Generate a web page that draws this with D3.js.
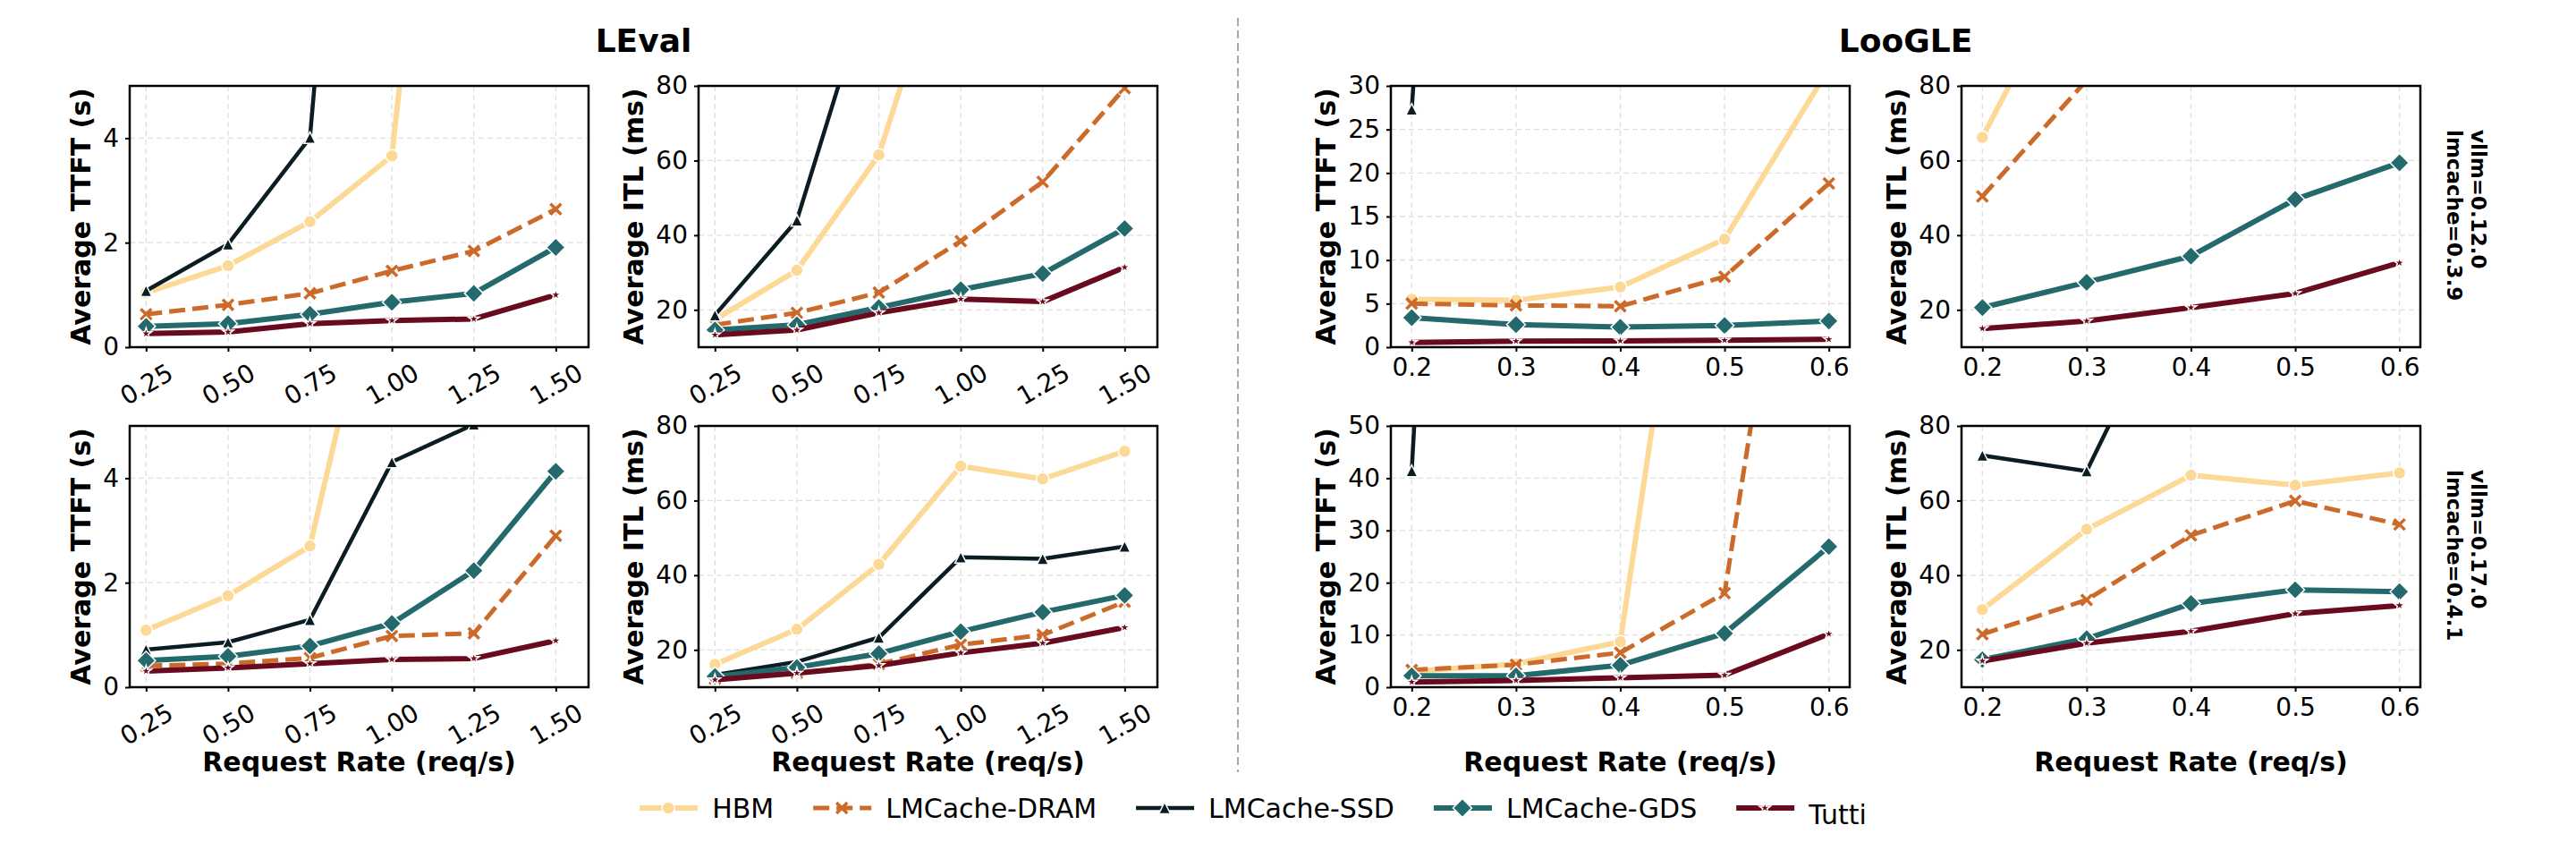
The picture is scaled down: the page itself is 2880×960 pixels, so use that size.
<!DOCTYPE html>
<html>
<head>
<meta charset="utf-8">
<script src="https://cdn.jsdelivr.net/npm/d3@7"></script>
<style>
  html, body { margin: 0; padding: 0; background: #fff; }
  svg { display: block; font-family: "DejaVu Sans", sans-serif; }
</style>
</head>
<body>
<svg id="chart" width="2880" height="960"></svg>
<script>
// ---- data ----
const systems = ['HBM', 'LMCache-DRAM', 'LMCache-SSD', 'LMCache-GDS', 'Tutti'];
const levalRates = [0.25, 0.5, 0.75, 1.0, 1.25, 1.5];
const loogleRates = [0.2, 0.3, 0.4, 0.5, 0.6];

const ttftTicksLeval = [0, 2, 4];
const ttftTicksLoogleV012 = [0, 5, 10, 15, 20, 25, 30];
const ttftTicksLoogleV017 = [0, 10, 20, 30, 40, 50];
const itlTicks = [20, 40, 60, 80];

// rows follow the order of `systems`; values past the top edge are clipped
const levalTtftV012 = [
  [1.04, 1.56, 2.40, 3.66, 18, 30],
  [0.63, 0.81, 1.03, 1.46, 1.84, 2.64],
  [1.08, 1.97, 4.01, 22, 40, 60],
  [0.40, 0.45, 0.63, 0.86, 1.03, 1.91],
  [0.26, 0.29, 0.45, 0.51, 0.54, 1.00],
];
const levalItlV012 = [
  [17.4, 30.6, 61.5, 130, 200, 260],
  [16.0, 19.2, 24.6, 38.4, 54.3, 79.4],
  [18.6, 44.0, 115, 200, 300, 400],
  [14.6, 16.0, 20.6, 25.4, 29.7, 41.8],
  [13.3, 14.6, 19.2, 22.9, 22.2, 31.4],
];
const loogleTtftV012 = [
  [5.5, 5.4, 6.9, 12.4, 32],
  [5.0, 4.8, 4.7, 8.1, 18.8],
  [27.3, 200, 300, 400, 500],
  [3.4, 2.6, 2.3, 2.5, 3.0],
  [0.55, 0.70, 0.72, 0.80, 0.90],
];
const loogleItlV012 = [
  [66.2, 120, 150, 180, 200],
  [50.4, 81.5, 110, 140, 170],
  [150, 250, 350, 450, 550],
  [20.6, 27.4, 34.4, 49.6, 59.4],
  [15.0, 17.0, 20.6, 24.4, 32.6],
];
const levalTtftV017 = [
  [1.09, 1.75, 2.70, 9.4, 15, 20],
  [0.41, 0.45, 0.56, 0.98, 1.03, 2.90],
  [0.72, 0.86, 1.29, 4.31, 5.03, 9],
  [0.51, 0.59, 0.79, 1.22, 2.23, 4.13],
  [0.31, 0.37, 0.45, 0.53, 0.55, 0.89],
];
const levalItlV017 = [
  [16.1, 25.5, 42.9, 69.2, 65.8, 73.2],
  [12.2, 13.8, 16.2, 21.4, 24.0, 32.9],
  [13.3, 16.8, 23.3, 44.8, 44.4, 47.7],
  [12.9, 15.3, 19.0, 24.9, 30.1, 34.6],
  [12.0, 13.8, 15.8, 19.2, 21.8, 26.0],
];
const loogleTtftV017 = [
  [3.0, 4.45, 8.7, 143, 200],
  [3.3, 4.3, 6.6, 18.0, 145],
  [41.4, 400, 500, 600, 700],
  [2.2, 2.2, 4.2, 10.3, 26.9],
  [1.0, 1.3, 1.8, 2.3, 10.2],
];
const loogleItlV017 = [
  [30.8, 52.3, 66.8, 64.1, 67.4],
  [24.2, 33.4, 50.7, 59.9, 53.6],
  [72.1, 67.9, 125, 200, 250],
  [17.4, 23.0, 32.4, 36.1, 35.6],
  [17.0, 21.8, 25.0, 29.7, 31.9],
];

const versionLabels = [['vllm=0.12.0', 'lmcache=0.3.9'], ['vllm=0.17.0', 'lmcache=0.4.1']];

// ---- styles ----
const seriesStyle = {
  'HBM':          { color: '#fdd998', width: 6, dash: null,   marker: 'circle' },
  'LMCache-DRAM': { color: '#cc6a2a', width: 5, dash: '18,8', marker: 'x' },
  'LMCache-SSD':  { color: '#0b1d23', width: 4.5, dash: null, marker: 'triangle' },
  'LMCache-GDS':  { color: '#246a6d', width: 6, dash: null,   marker: 'diamond' },
  'Tutti':        { color: '#6a0a1e', width: 6, dash: null,   marker: 'star' },
};

const markerPath = {
  circle: d3.symbol(d3.symbolCircle, Math.PI * 7 * 7)(),
  triangle: 'M0,-6.5L6.5,6.5L-6.5,6.5Z',
  diamond: 'M0,-10.5L10.5,0L0,10.5L-10.5,0Z',
  star: d3.symbol(d3.symbolStar, 48)(),
  x: 'M-6,-6L6,6M-6,6L6,-6',
};

const W = 513, H = 292;
const colLeft = [145, 781, 1555, 2193];
const rowTop = [96, 476];

const panels = [
  { row: 0, col: 0, rates: levalRates, xDom: [0.2, 1.6], fmt: '.2f', rot: true, yDom: [0, 5], yTicks: ttftTicksLeval, label: 'Average TTFT (s)', data: levalTtftV012 },
  { row: 0, col: 1, rates: levalRates, xDom: [0.2, 1.6], fmt: '.2f', rot: true, yDom: [10, 80], yTicks: itlTicks, label: 'Average ITL (ms)', data: levalItlV012 },
  { row: 0, col: 2, rates: loogleRates, xDom: [0.18, 0.62], fmt: '.1f', rot: false, yDom: [0, 30], yTicks: ttftTicksLoogleV012, label: 'Average TTFT (s)', data: loogleTtftV012 },
  { row: 0, col: 3, rates: loogleRates, xDom: [0.18, 0.62], fmt: '.1f', rot: false, yDom: [10, 80], yTicks: itlTicks, label: 'Average ITL (ms)', data: loogleItlV012 },
  { row: 1, col: 0, rates: levalRates, xDom: [0.2, 1.6], fmt: '.2f', rot: true, yDom: [0, 5], yTicks: ttftTicksLeval, label: 'Average TTFT (s)', data: levalTtftV017, xlabel: true },
  { row: 1, col: 1, rates: levalRates, xDom: [0.2, 1.6], fmt: '.2f', rot: true, yDom: [10, 80], yTicks: itlTicks, label: 'Average ITL (ms)', data: levalItlV017, xlabel: true },
  { row: 1, col: 2, rates: loogleRates, xDom: [0.18, 0.62], fmt: '.1f', rot: false, yDom: [0, 50], yTicks: ttftTicksLoogleV017, label: 'Average TTFT (s)', data: loogleTtftV017, xlabel: true },
  { row: 1, col: 3, rates: loogleRates, xDom: [0.18, 0.62], fmt: '.1f', rot: false, yDom: [10, 80], yTicks: itlTicks, label: 'Average ITL (ms)', data: loogleItlV017, xlabel: true },
];

const svg = d3.select('#chart');

function drawMarker(sel, sys) {
  const st = seriesStyle[sys];
  const m = st.marker;
  sel.append('path')
    .attr('d', markerPath[m])
    .attr('fill', m === 'x' ? 'none' : st.color)
    .attr('stroke', m === 'x' ? st.color : '#fff')
    .attr('stroke-width', m === 'x' ? 3.5 : 1.5);
}

panels.forEach((p, i) => {
  const left = colLeft[p.col], top = rowTop[p.row];
  const x = d3.scaleLinear().domain(p.xDom).range([0, W]);
  const y = d3.scaleLinear().domain(p.yDom).range([H, 0]);
  const g = svg.append('g').attr('transform', `translate(${left},${top})`);

  g.append('clipPath').attr('id', `clip${i}`)
    .append('rect').attr('width', W).attr('height', H);

  // grid
  g.append('g').selectAll('line').data(p.rates).join('line')
    .attr('x1', d => x(d)).attr('x2', d => x(d)).attr('y1', 0).attr('y2', H)
    .attr('stroke', '#dfdfdf').attr('stroke-width', 1.3).attr('stroke-dasharray', '6,4');
  g.append('g').selectAll('line').data(p.yTicks).join('line')
    .attr('x1', 0).attr('x2', W).attr('y1', d => y(d)).attr('y2', d => y(d))
    .attr('stroke', '#dfdfdf').attr('stroke-width', 1.3).attr('stroke-dasharray', '6,4');

  // series
  const plot = g.append('g').attr('clip-path', `url(#clip${i})`);
  systems.forEach((sys, si) => {
    const st = seriesStyle[sys];
    const pts = p.rates.map((r, k) => [r, p.data[si][k]]);
    const line = d3.line().x(d => x(d[0])).y(d => y(d[1]));
    plot.append('path').datum(pts)
      .attr('d', line)
      .attr('fill', 'none')
      .attr('stroke', st.color)
      .attr('stroke-width', st.width)
      .attr('stroke-dasharray', st.dash)
      .attr('stroke-linejoin', 'round');
    pts.forEach(d => {
      const mg = plot.append('g').attr('transform', `translate(${x(d[0])},${y(d[1])})`);
      drawMarker(mg, sys);
    });
  });

  // axes
  const xAxis = g.append('g').attr('transform', `translate(0,${H})`)
    .call(d3.axisBottom(x).tickValues(p.rates).tickFormat(d3.format(p.fmt)).tickSize(5).tickPadding(7));
  const yAxis = g.append('g')
    .call(d3.axisLeft(y).tickValues(p.yTicks).tickFormat(d3.format('d')).tickSize(5).tickPadding(7));
  [xAxis, yAxis].forEach(a => {
    a.select('.domain').remove();
    a.selectAll('.tick line').attr('stroke', '#000').attr('stroke-width', 2);
    a.selectAll('.tick text').attr('font-size', 28).attr('font-family', '"DejaVu Sans", sans-serif').attr('fill', '#000');
  });
  if (p.rot) {
    xAxis.selectAll('.tick text').each(function () {
      const t = d3.select(this);
      const w = this.getComputedTextLength();
      const hb = w * Math.sin(Math.PI / 6) + 32 * Math.cos(Math.PI / 6);
      t.attr('y', 0).attr('dy', '0.35em').attr('text-anchor', 'middle')
        .attr('transform', `translate(0,${12 + hb / 2}) rotate(-30)`);
    });
  }

  // spines
  g.append('rect').attr('width', W).attr('height', H)
    .attr('fill', 'none').attr('stroke', '#000').attr('stroke-width', 2.5);

  // y label
  let maxW = 0;
  yAxis.selectAll('.tick text').each(function () { maxW = Math.max(maxW, this.getComputedTextLength()); });
  g.append('text')
    .attr('transform', `translate(${-maxW - 26},${H / 2}) rotate(-90)`)
    .attr('text-anchor', 'middle')
    .attr('font-size', 30).attr('font-weight', 'bold')
    .text(p.label);

  if (p.xlabel) {
    g.append('text')
      .attr('x', W / 2).attr('y', 386)
      .attr('text-anchor', 'middle')
      .attr('font-size', 30).attr('font-weight', 'bold')
      .text('Request Rate (req/s)');
  }
});

// dataset titles
svg.append('text').attr('x', (colLeft[0] + colLeft[1] + W) / 2).attr('y', 58)
  .attr('text-anchor', 'middle').attr('font-size', 36).attr('font-weight', 'bold').text('LEval');
svg.append('text').attr('x', (colLeft[2] + colLeft[3] + W) / 2).attr('y', 58)
  .attr('text-anchor', 'middle').attr('font-size', 36).attr('font-weight', 'bold').text('LooGLE');

// separator
svg.append('line').attr('x1', 1384).attr('x2', 1384).attr('y1', 20).attr('y2', 863)
  .attr('stroke', '#8a8a8a').attr('stroke-width', 1.5).attr('stroke-dasharray', '9,5');

// version labels on the right
versionLabels.forEach((lines, r) => {
  const startY = rowTop[r] + 49;
  lines.forEach((txt, li) => {
    svg.append('text')
      .attr('transform', `translate(${2763 - li * 27},${startY}) rotate(90)`)
      .attr('font-size', 23).attr('font-weight', 'bold')
      .text(txt);
  });
});

// legend
const legend = svg.append('g');
const legY = 903;
const items = systems.map(sys => {
  const ig = legend.append('g');
  const st = seriesStyle[sys];
  ig.append('line').attr('x1', 0).attr('x2', 65).attr('y1', 0).attr('y2', 0)
    .attr('stroke', st.color).attr('stroke-width', st.width).attr('stroke-dasharray', st.dash);
  const mg = ig.append('g').attr('transform', 'translate(32,0)');
  drawMarker(mg, sys);
  const t = ig.append('text').attr('x', 81).attr('y', sys === 'Tutti' ? 18 : 11)
    .attr('font-size', 30).text(sys);
  return { g: ig, w: 81 + t.node().getComputedTextLength() };
});
const colSpacing = 44;
const total = d3.sum(items, d => d.w) + colSpacing * (items.length - 1);
let lx = 1401 - total / 2;
items.forEach(it => {
  it.g.attr('transform', `translate(${lx},${legY})`);
  lx += it.w + colSpacing;
});
</script>
</body>
</html>
